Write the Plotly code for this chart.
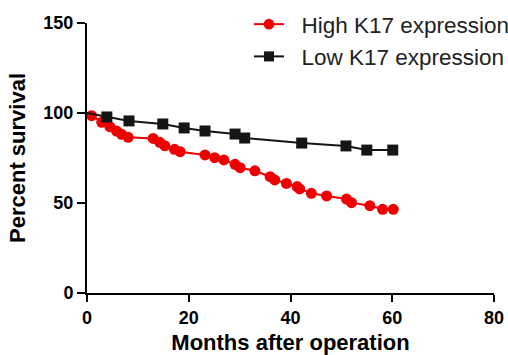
import plotly.graph_objects as go

# High K17 expression (red circles)
high_x = [0, 0.9, 2.9, 4.5, 5.8, 6.8, 8.1, 13.0, 14.3, 15.3, 17.2, 18.3, 23.2, 25.1,
          26.9, 29.1, 30.1, 33.0, 36.0, 36.9, 39.2, 41.3, 41.8, 44.1, 47.1, 51.0,
          52.0, 55.6, 58.1, 60.2]
high_y = [100, 98.5, 94.8, 92.4, 90.0, 88.2, 86.5, 85.9, 83.7, 81.8, 79.8, 78.5, 76.7, 75.2,
          73.9, 71.5, 69.6, 67.9, 64.6, 62.8, 60.9, 59.1, 57.8, 55.4, 53.9, 52.2,
          50.2, 48.5, 46.5, 46.5]

# Low K17 expression (black squares)
low_x = [0, 3.9, 8.25, 14.9, 19.1, 23.2, 29.1, 31.0, 42.2, 50.9, 55.0, 60.1]
low_y = [100, 97.8, 95.6, 93.9, 91.7, 90.0, 88.3, 86.1, 83.3, 81.7, 79.4, 79.4]

x_ticks = [0, 20, 40, 60, 80]
y_ticks = [0, 50, 100, 150]

FONT = "Arial, Liberation Sans, sans-serif"
RED = "#EE0000"
BLACK = "#151515"
NB = "\u00a0\u00a0"

fig = go.Figure()
fig.add_trace(go.Scatter(
    x=high_x, y=high_y, mode="lines+markers", name=NB + "High K17 expression",
    line=dict(color=RED, width=2),
    marker=dict(symbol="circle", color=RED, opacity=1, line=dict(width=0),
                size=[0] + [11] * (len(high_x) - 1)),
    cliponaxis=False, legendgroup="a",
))
fig.add_trace(go.Scatter(
    x=low_x, y=low_y, mode="lines+markers", name=NB + "Low K17 expression",
    line=dict(color=BLACK, width=2),
    marker=dict(symbol="square", color=BLACK, opacity=1, line=dict(width=0),
                size=[0] + [11] * (len(low_x) - 1)),
    cliponaxis=False, legendgroup="b",
))

axis_common = dict(
    showgrid=False, zeroline=False, showline=True, linecolor="black", linewidth=2,
    ticks="outside", tickcolor="black", tickwidth=2,
    tickfont=dict(family=FONT, size=18, color="black", weight="bold"),
)

fig.update_layout(
    width=508, height=355,
    margin=dict(l=87, r=14, t=23, b=62, autoexpand=False),
    paper_bgcolor="white", plot_bgcolor="white",
    showlegend=True,
    legend=dict(
        x=0.398, y=1.074, xanchor="left", yanchor="top",
        font=dict(family=FONT, size=22.5, color="#222222"),
        bgcolor="rgba(0,0,0,0)", tracegroupgap=0, traceorder="grouped",
        itemwidth=30,
    ),
    xaxis=dict(
        range=[0, 80], tickvals=x_ticks, ticklen=7,
        title=dict(text="Months after operation", standoff=10,
                   font=dict(family=FONT, size=22, color="black", weight="bold")),
        **axis_common,
    ),
    yaxis=dict(
        range=[0, 150], tickvals=y_ticks, ticklen=8,
        title=dict(text="Percent survival", standoff=12,
                   font=dict(family=FONT, size=22, color="black", weight="bold")),
        **axis_common,
    ),
)

fig.write_html("out.html", config={"displayModeBar": False},
               post_script="document.body.style.margin='0';")
